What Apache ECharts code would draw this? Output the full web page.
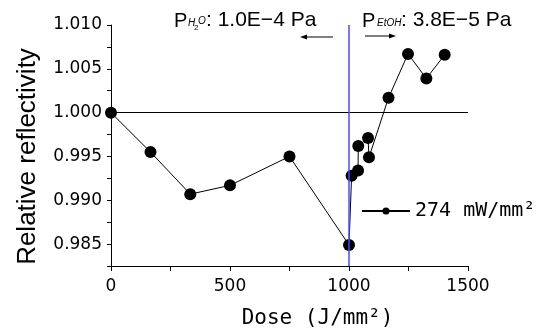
<!DOCTYPE html>
<html>
<head>
<meta charset="utf-8">
<script src="https://cdn.jsdelivr.net/npm/echarts@6/dist/echarts.min.js"></script>
<style>
  html, body { margin: 0; padding: 0; background: #fff; }
  #chart { width: 547px; height: 334px; }
</style>
</head>
<body>
<div id="chart"></div>
<script>
// dose (J/mm2) and relative reflectivity
const doses = [0, 166, 333, 500, 750, 1000, 1011, 1038, 1039, 1080, 1084, 1166, 1248, 1325, 1402]
const reflect = [1.0000, 0.9955, 0.9907, 0.9917, 0.9950, 0.9849, 0.9928, 0.9934, 0.9962, 0.9971, 0.9949, 1.0017, 1.0067, 1.0039, 1.0066]
const xTicks = [0, 500, 1000, 1500]
const yTicks = [0.985, 0.990, 0.995, 1.000, 1.005, 1.010]
const seriesName = '274 mW/mm²'
const refLevel = 1.0
const switchDose = 1000

const chart = echarts.init(document.getElementById('chart'))

const sans = 'DejaVu Sans'
const mono = 'DejaVu Sans Mono'

// small arrow helper for the annotations on top
function arrow(x1, x2, y) {
	const dir = x2 > x1 ? 1 : -1
	return [
		{
			type: 'line',
			shape: { x1: x1, y1: y, x2: x2 - dir * 5, y2: y },
			style: { stroke: '#000', lineWidth: 1 }
		},
		{
			type: 'polygon',
			shape: { points: [[x2, y], [x2 - dir * 7, y - 2.5], [x2 - dir * 7, y + 2.5]] },
			style: { fill: '#000' }
		}
	]
}

// text placed by its baseline
function txt(x, base, text, size, italic) {
	return {
		type: 'text',
		x: x,
		y: base - 0.35 * size,
		style: {
			text: text,
			font: (italic ? 'italic ' : '') + size + 'px "Liberation Sans"',
			fill: '#000',
			verticalAlign: 'middle'
		}
	}
}

const option = {
	animation: false,
	grid: { left: 111, right: 79, top: 25, bottom: 67 },
	legend: {
		left: 356,
		top: 196,
		itemWidth: 48,
		itemHeight: 9,
		data: [seriesName],
		textStyle: { fontFamily: mono, fontSize: 20, color: '#000' }
	},
	xAxis: {
		type: 'value',
		min: 0,
		max: 1500,
		interval: 250,
		name: 'Dose (J/mm²)',
		nameLocation: 'middle',
		nameGap: 42,
		nameTextStyle: { fontFamily: mono, fontSize: 21, color: '#000', padding: [0, 0, 0, 56] },
		axisLine: { lineStyle: { color: '#000', width: 1 } },
		axisTick: { length: 5, lineStyle: { color: '#000' } },
		splitLine: { show: false },
		axisLabel: {
			margin: 12,
			fontFamily: sans,
			fontSize: 17,
			color: '#000',
			formatter: (v) => (xTicks.includes(v) ? String(v) : '')
		}
	},
	yAxis: {
		type: 'value',
		min: 0.9825,
		max: 1.010,
		interval: 0.0025,
		name: 'Relative reflectivity',
		nameLocation: 'middle',
		nameGap: 70,
		nameTextStyle: { fontFamily: '"Liberation Sans"', fontSize: 26, color: '#000', padding: [0, 22, 0, 0] },
		axisLine: { show: true, lineStyle: { color: '#000', width: 1 } },
		axisTick: { show: true, length: 4, lineStyle: { color: '#000' } },
		splitLine: { show: false },
		axisLabel: {
			margin: 9,
			fontFamily: sans,
			fontSize: 17,
			color: '#000',
			formatter: (v) => (yTicks.some((t) => Math.abs(t - v) < 1e-6) ? v.toFixed(3) : '')
		}
	},
	series: [
		{
			name: seriesName,
			type: 'line',
			data: doses.map((d, i) => [d, reflect[i]]),
			symbol: 'circle',
			symbolSize: 12,
			itemStyle: { color: '#000' },
			lineStyle: { color: '#000', width: 1 },
			z: 2
		},
		{
			// reference lines drawn over the markers
			name: 'ref',
			type: 'line',
			data: [],
			z: 5,
			markLine: {
				silent: true,
				symbol: 'none',
				label: { show: false },
				data: [
					{ yAxis: refLevel, lineStyle: { color: '#000', width: 1, type: 'solid' } },
					{ xAxis: switchDose, lineStyle: { color: '#4a4aff', width: 1.5, type: 'solid' } }
				]
			}
		}
	],
	graphic: [
		// P(H2O): 1.0E-4 Pa
		txt(174, 28, 'P', 20),
		txt(188, 27, 'H', 10, true),
		txt(194, 31, '2', 8),
		txt(198, 25, 'O', 10, true),
		txt(206, 28, ': 1.0E−4 Pa', 21),
		// P(EtOH): 3.8E-5 Pa
		txt(362, 28, 'P', 20),
		txt(377, 27, 'EtOH', 10, true),
		txt(401, 28, ': 3.8E−5 Pa', 21),
		...arrow(333, 300, 37),
		...arrow(365, 396, 36)
	]
}

chart.setOption(option)
</script>
</body>
</html>
